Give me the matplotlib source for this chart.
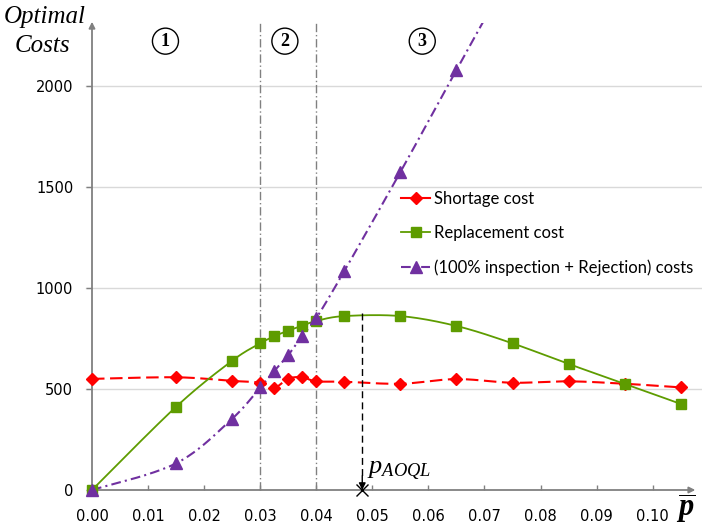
import numpy as np
import matplotlib
matplotlib.use('Agg')
import matplotlib.pyplot as plt
from matplotlib.lines import Line2D

plt.rcParams['mathtext.fontset'] = 'custom'
plt.rcParams['mathtext.rm'] = 'Liberation Serif'
plt.rcParams['mathtext.it'] = 'Liberation Serif:italic'
plt.rcParams['mathtext.bf'] = 'Liberation Serif:italic:bold'
plt.rcParams['lines.scale_dashes'] = False

# ---------------- data ----------------
p = [0.0, 0.015, 0.025, 0.03, 0.0325, 0.035, 0.0375, 0.04, 0.045, 0.055,
     0.065, 0.075, 0.085, 0.095, 0.105]
shortage = [550, 558, 540, 531, 506, 551, 558, 538, 536, 526, 549, 531, 538, 526, 508]
replacement = [0, 412, 640, 726, 761, 789, 813, 837, 861, 861, 812, 726, 624, 526, 426]
p_insp = [0.0, 0.015, 0.025, 0.03, 0.0325, 0.035, 0.0375, 0.04, 0.045, 0.055, 0.065, 0.075]
inspection = [0, 132, 353, 508, 589, 668, 764, 851, 1084, 1574, 2079, 2580]
yticks = [0, 500, 1000, 1500, 2000]
xticks = [0.00, 0.01, 0.02, 0.03, 0.04, 0.05, 0.06, 0.07, 0.08, 0.09, 0.10]
xtick_labels = ['0.00', '0.01', '0.02', '0.03', '0.04', '0.05', '0.06', '0.07',
                '0.08', '0.09', '0.10']
region_bounds = [0.03, 0.04]
region_labels = ['1', '2', '3']
region_label_x = [0.0131, 0.0344, 0.0589]
p_aoql = 0.0482
p_aoql_top = 875
labels = ['Shortage cost', 'Replacement cost', '(100% inspection + Rejection) costs']

# ---------------- layout ----------------
W, H = 702, 529
x0px, y0px = 92.0, 490.0
sx, sy = 5607.0, 0.202          # px per data unit
ax_l, ax_r, ax_t, ax_b = 80, 702, 23, 500
xmin, xmax = (ax_l - x0px) / sx, (ax_r - x0px) / sx
ymin, ymax = -(ax_b - y0px) / sy, (y0px - ax_t) / sy

fig = plt.figure(figsize=(W / 100, H / 100), dpi=100)
ax = fig.add_axes([ax_l / W, 1 - ax_b / H, (ax_r - ax_l) / W, (ax_b - ax_t) / H])
ax.set_xlim(xmin, xmax)
ax.set_ylim(ymin, ymax)
ax.patch.set_visible(False)


def smooth(xs, ys, n=24):
    P = np.column_stack([np.asarray(xs) * sx, np.asarray(ys) * sy])
    out = [P[0]]
    for i in range(len(P) - 1):
        p0 = P[i - 1] if i > 0 else P[i]
        p1, p2 = P[i], P[i + 1]
        p3 = P[i + 2] if i + 2 < len(P) else P[i + 1]
        c1 = p1 + (p2 - p0) / 6.0
        c2 = p2 - (p3 - p1) / 6.0
        t = np.linspace(0, 1, n)[1:, None]
        seg = ((1 - t) ** 3) * p1 + 3 * ((1 - t) ** 2) * t * c1 + 3 * (1 - t) * t ** 2 * c2 + t ** 3 * p2
        out.extend(seg)
    out = np.array(out)
    return out[:, 0] / sx, out[:, 1] / sy


gray = '#808080'
red = '#FF0000'
green = '#5E9C00'
purple = '#7030A0'

# grid lines
for yv in yticks[1:]:
    ax.axhline(yv, xmin=(86 - ax_l) / (ax_r - ax_l), xmax=1, color='#D9D9D9', lw=1.0, zorder=0)

# region boundaries
for xb in region_bounds:
    ax.plot([xb, xb], [0, ymax + 5], color=gray, lw=1.0, dashes=(6, 2, 1, 2), zorder=1,
            clip_on=False)

# series
xs_, ys_ = smooth(p, shortage)
ax.plot(xs_, ys_, color=red, lw=1.5, dashes=(9, 4), zorder=3)
ax.plot(p, shortage, 'D', color=red, ms=6, zorder=4, clip_on=False)

xs_, ys_ = smooth(p, replacement)
ax.plot(xs_, ys_, color=green, lw=1.3, zorder=3)
ax.plot(p, replacement, 's', color=green, ms=7, zorder=4, clip_on=False)

xs_, ys_ = smooth(p_insp, inspection)
ax.plot(xs_, ys_, color=purple, lw=1.5, dashes=(7, 3, 1.5, 3), zorder=3)
ax.plot(p_insp, inspection, '^', color=purple, ms=8, zorder=5, clip_on=False)

# axes with arrows
for s in ax.spines.values():
    s.set_visible(False)
ax.spines['left'].set_position(('data', 0))
ax.spines['bottom'].set_position(('data', 0))
ax.annotate('', xy=(0, 2318), xytext=(0, 0), annotation_clip=False,
            arrowprops=dict(arrowstyle='-|>', color=gray, lw=1.3, mutation_scale=9,
                            shrinkA=0, shrinkB=0), zorder=2)
ax.annotate('', xy=(0.1076, 0), xytext=(0, 0), annotation_clip=False,
            arrowprops=dict(arrowstyle='-|>', color=gray, lw=1.3, mutation_scale=9,
                            shrinkA=0, shrinkB=0), zorder=2)

ax.set_yticks(yticks)
ax.set_yticklabels([str(v) for v in yticks])
ax.set_xticks(xticks)
ax.set_xticklabels(xtick_labels)
ax.tick_params(axis='y', direction='out', length=4.5, width=1, color=gray, pad=9,
               labelsize=10.5, labelcolor='black')
ax.tick_params(axis='x', direction='in', length=3.5, width=1, color=gray, pad=14,
               labelsize=10.5, labelcolor='black')

# region labels
for lab, xl in zip(region_labels, region_label_x):
    ax.text(xl, 2222, lab, ha='center', va='center', fontsize=13, fontweight='bold',
            family='Liberation Serif',
            bbox=dict(boxstyle='circle,pad=0.25', fc='white', ec='black', lw=1.0))

# p_AOQL marker
ax.plot([p_aoql, p_aoql], [p_aoql_top, 60], color='black', lw=1.0, dashes=(5, 3), zorder=6)
ax.annotate('', xy=(p_aoql, 0), xytext=(p_aoql, 70), annotation_clip=False,
            arrowprops=dict(arrowstyle='-|>', color='black', lw=1.0, mutation_scale=10,
                            shrinkA=0, shrinkB=0), zorder=6)
ax.plot([p_aoql], [0], marker='x', color='black', ms=9, mew=1.0, clip_on=False, zorder=7)
ax.text(0.0491, 84, r'$p_{AOQL}$', fontsize=19, ha='left', va='baseline')

# legend
handles = [
    Line2D([], [], color=red, lw=1.5, marker='D', ms=6),
    Line2D([], [], color=green, lw=1.3, marker='s', ms=7),
    Line2D([], [], color=purple, lw=1.5, dashes=(7, 3, 1.5, 3), marker='^', ms=8),
]
ax.legend(handles, labels, loc='upper left', bbox_to_anchor=(401 / W, 1 - 191 / H),
          bbox_transform=fig.transFigure, frameon=False, prop={'family': 'Lato', 'size': 12},
          handlelength=1.75, handletextpad=0.2, labelspacing=1.1, borderpad=0,
          borderaxespad=0, numpoints=1)

# axis titles
fig.text(45 / W, 1 - 23 / H, 'Optimal', ha='center', va='baseline', fontsize=18,
         family='Liberation Serif', style='italic')
fig.text(42 / W, 1 - 52 / H, 'Costs', ha='center', va='baseline', fontsize=18,
         family='Liberation Serif', style='italic')
fig.text(686 / W, 1 - 517 / H, r'$\overline{\mathbf{p}}$', ha='center', va='baseline',
         fontsize=22)

fig.savefig('out.png', dpi=100)
